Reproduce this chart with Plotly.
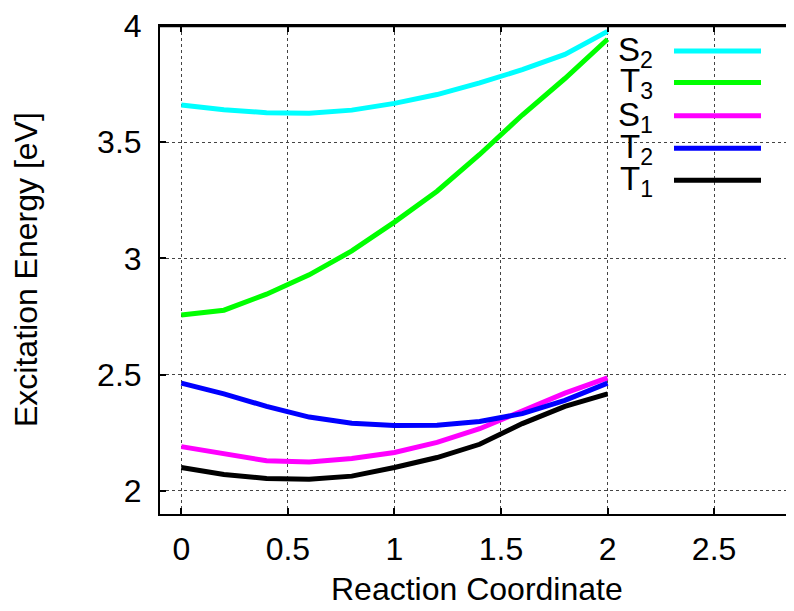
import plotly.graph_objects as go

# Data
x_coord = [0.0, 0.2, 0.4, 0.6, 0.8, 1.0, 1.2, 1.4, 1.6, 1.8, 2.0]
S2 = [3.660, 3.640, 3.627, 3.625, 3.638, 3.667, 3.705, 3.755, 3.812, 3.878, 3.977]
T3 = [2.756, 2.777, 2.846, 2.929, 3.032, 3.156, 3.289, 3.447, 3.617, 3.774, 3.943]
S1 = [2.190, 2.160, 2.129, 2.124, 2.139, 2.165, 2.208, 2.267, 2.343, 2.420, 2.486]
T2 = [2.463, 2.417, 2.363, 2.317, 2.291, 2.281, 2.282, 2.298, 2.332, 2.389, 2.463]
T1 = [2.100, 2.070, 2.053, 2.050, 2.063, 2.100, 2.143, 2.200, 2.289, 2.363, 2.417]

series_names = ["S<sub>2</sub>", "T<sub>3</sub>", "S<sub>1</sub>", "T<sub>2</sub>", "T<sub>1</sub>"]
series_values = [S2, T3, S1, T2, T1]
series_colors = ["#00FFFF", "#00FF00", "#FF00FF", "#0000FF", "#000000"]

x_tickvals = [0, 0.5, 1, 1.5, 2, 2.5]
x_ticktext = ["0", "0.5", "1", "1.5", "2", "2.5"]
y_tickvals = [2, 2.5, 3, 3.5, 4]
y_ticktext = ["2", "2.5", "3", "3.5", "4"]

FONT = "Liberation Sans, Arial, Helvetica, sans-serif"

# page offset of the plot div (body margin)
OFF = 8
W, H = 794 - OFF, 611 - OFF
# target frame in page pixels: left 160, top 24, bottom 514, right 794
ml, mt = 160 - OFF, 24 - OFF
mb = H - (514 - OFF)
mr = 0
pw = W - ml - mr
ph = H - mt - mb


def px_x(page_x):
    return (page_x - 160) / pw


def px_y(page_y):
    return (514 - page_y) / ph


fig = go.Figure()
for name, vals, col in zip(series_names, series_values, series_colors):
    fig.add_trace(go.Scatter(x=x_coord, y=vals, mode="lines", name=name,
                             line=dict(color=col, width=5), showlegend=False))

fig.update_layout(
    width=W, height=H,
    margin=dict(l=ml, r=mr, t=mt, b=mb, pad=0),
    plot_bgcolor="white", paper_bgcolor="white",
    font=dict(family=FONT, size=32, color="black"),
    xaxis=dict(range=[-0.1, 2.875], tickvals=x_tickvals, ticktext=x_ticktext,
               showgrid=True, gridcolor="#444444", griddash="dot", gridwidth=1,
               zeroline=False, showline=True, linecolor="black", linewidth=2,
               mirror="ticks", ticks="inside", ticklen=6, tickwidth=2, tickcolor="black",
               ticklabelstandoff=6, ticklabeloverflow="allow", tickfont=dict(size=32)),
    yaxis=dict(range=[1.9, 4.0], tickvals=y_tickvals, ticktext=y_ticktext,
               showgrid=True, gridcolor="#444444", griddash="dot", gridwidth=1,
               zeroline=False, showline=True, linecolor="black", linewidth=2,
               mirror=False, ticks="inside", ticklen=6, tickwidth=2, tickcolor="black",
               ticklabelstandoff=10, ticklabeloverflow="allow", tickfont=dict(size=32)),
)

# explicit top border of the frame
fig.add_shape(type="line", xref="paper", yref="paper", x0=0, x1=1, y0=1, y1=1,
              line=dict(color="black", width=2.5), layer="above")

# Axis titles
fig.add_annotation(text="Reaction Coordinate", xref="paper", yref="paper",
                   x=0.5, y=px_y(589), xanchor="center", yanchor="middle",
                   showarrow=False, font=dict(size=32))
fig.add_annotation(text="Excitation Energy [eV]", xref="paper", yref="paper",
                   x=px_x(26), y=0.5, xanchor="center", yanchor="middle",
                   textangle=-90, showarrow=False, font=dict(size=32))

# Key (text left of line sample, as in reference)
key_rows = [49, 80.7, 114, 146.7, 179]
for name, col, ypx in zip(series_names, series_colors, key_rows):
    fig.add_shape(type="line", xref="paper", yref="paper",
                  x0=px_x(674), x1=px_x(761), y0=px_y(ypx), y1=px_y(ypx),
                  line=dict(color=col, width=5))
    fig.add_annotation(text=name, xref="paper", yref="paper",
                       x=px_x(655), y=px_y(ypx + 1),
                       xanchor="right", yanchor="middle", showarrow=False,
                       font=dict(size=33))

fig.write_html("out.html")
